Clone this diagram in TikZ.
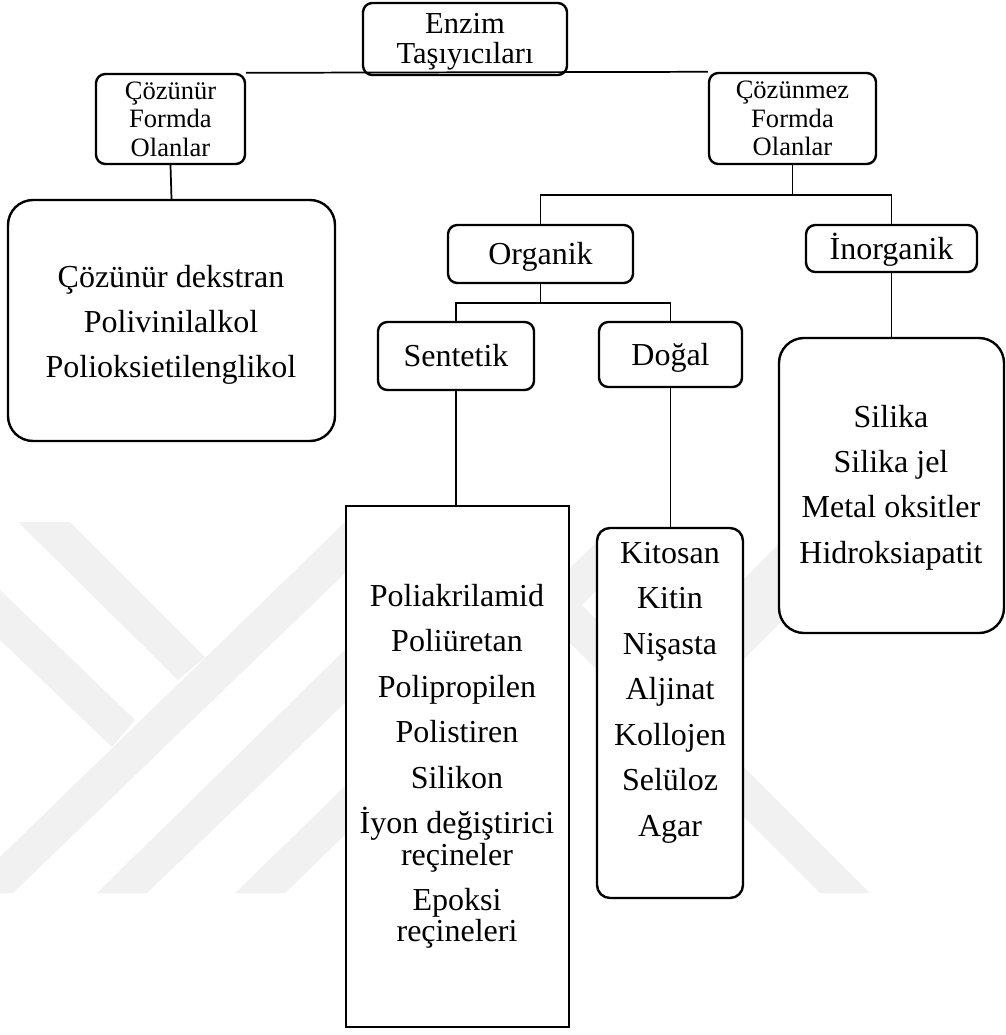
\documentclass[tikz,border=0pt]{standalone}
\usepackage{fontspec}
\setmainfont{Liberation Serif}
\definecolor{wm}{RGB}{241,241,241}
\begin{document}
\begin{tikzpicture}[x=0.75pt,y=-0.75pt,
  box/.style={draw, line width=1.8pt, fill=white, rounded corners=7pt, inner sep=0pt, align=center},
  one/.style={box, font=\fontsize{24}{24}\selectfont, text height=15.9pt, text depth=0pt},
  listbox/.style={draw, line width=1.8pt, fill=white, inner sep=0pt},
  listtext/.style={anchor=north, inner sep=0pt, align=center, font=\fontsize{24}{23.6}\selectfont},
  conn/.style={draw, line width=1.3pt},
  wmark/.style={fill=wm, draw=none}]
\useasboundingbox (0,0) rectangle (1006,1035);
% watermark
\fill[wmark] (18,522) -- (70,522) -- (205,657) -- (178,680) -- cycle;
\fill[wmark] (0,590) -- (135,720) -- (112,747) -- (0,640) -- cycle;
\fill[wmark] (0,857) -- (345,522) -- (398,522) -- (13,893) -- (0,893) -- cycle;
\fill[wmark] (97,893) -- (147,893) -- (420,631) -- (420,576) -- cycle;
\fill[wmark] (235,893) -- (285,893) -- (659,530) -- (609,530) -- cycle;
\fill[wmark] (820,893) -- (870,893) -- (507,530) -- (457,530) -- cycle;
\fill[wmark] (700,623) -- (700,703) -- (873,530) -- (793,530) -- cycle;
% boxes
\node[box, minimum width=153pt, minimum height=54pt, font=\fontsize{22.9}{22.5}\selectfont] (enzim) at (465,39) {\rule{0pt}{19.7pt}Enzim\\Taşıyıcıları};
\node[box, minimum width=111.75pt, minimum height=67.5pt, font=\fontsize{19.9}{21.4}\selectfont] (coz) at (170.5,119) {Çözünür\\Formda\\Olanlar};
\node[box, minimum width=125.25pt, minimum height=68.25pt, font=\fontsize{19.9}{21.4}\selectfont] (cozm) at (792.5,118.5) {Çözünmez\\Formda\\Olanlar};
\node[listbox, rounded corners=18.75pt, minimum width=245.25pt, minimum height=180.75pt] (leftlist) at (171.5,320.5) {};
\node[one, minimum width=138.75pt, minimum height=43.5pt] (org) at (540.5,254) {Organik};
\node[one, minimum width=128.25pt, minimum height=35.25pt] (inorg) at (891.5,248.5) {İnorganik};
\node[one, minimum width=117pt, minimum height=51pt] (sent) at (456,356) {Sentetik};
\node[one, minimum width=107.25pt, minimum height=48.75pt] (dogal) at (670.5,354.5) {Doğal};
\node[listbox, rounded corners=18.75pt, minimum width=168.75pt, minimum height=221.25pt] (inlist) at (891.5,485.5) {};
\node[listbox, minimum width=167.25pt, minimum height=390.75pt] (rect) at (457.5,766.5) {};
\node[listbox, rounded corners=9.75pt, minimum width=109.5pt, minimum height=277.5pt] (dlist) at (670,713) {};
% list texts
\node[listtext] (leftT) at (171,260.3) {\rule{0pt}{20pt}Çözünür dekstran\\[10.2pt]Polivinilalkol\\[10.2pt]Polioksietilenglikol};
\node[listtext] (inT) at (891,400.3) {\rule{0pt}{20pt}Silika\\[10.4pt]Silika jel\\[10.4pt]Metal oksitler\\[10.4pt]Hidroksiapatit};
\node[listtext] (rectT) at (457,579.3) {\rule{0pt}{20pt}Poliakrilamid\\[10.5pt]Poliüretan\\[10.5pt]Polipropilen\\[10.5pt]Polistiren\\[10.5pt]Silikon\\[10.5pt]İyon değiştirici\\reçineler\\[10.5pt]Epoksi\\reçineleri};
\node[listtext] (dT) at (670,536.3) {\rule{0pt}{20pt}Kitosan\\[10.5pt]Kitin\\[10.5pt]Nişasta\\[10.5pt]Aljinat\\[10.5pt]Kollojen\\[10.5pt]Selüloz\\[10.5pt]Agar};
% connectors
\coordinate (j1) at (792.5,195);
\coordinate (j2) at (540.5,303);
\draw[conn] (coz.north east) -- (cozm.north west);
\draw[conn] (coz.south) -- (leftlist.north);
\draw[conn] (cozm.south) -- (j1);
\draw[conn] (org.north) |- (j1) -| (inorg.north);
\draw[conn] (org.south) -- (j2);
\draw[conn] (sent.north) |- (j2) -| (dogal.north);
\draw[conn] (sent.south) -- (sent.south |- rect.north);
\draw[conn] (dogal.south) -- (dogal.south |- dlist.north);
\draw[conn] (inorg.south) -- (inlist.north);
\end{tikzpicture}
\end{document}
